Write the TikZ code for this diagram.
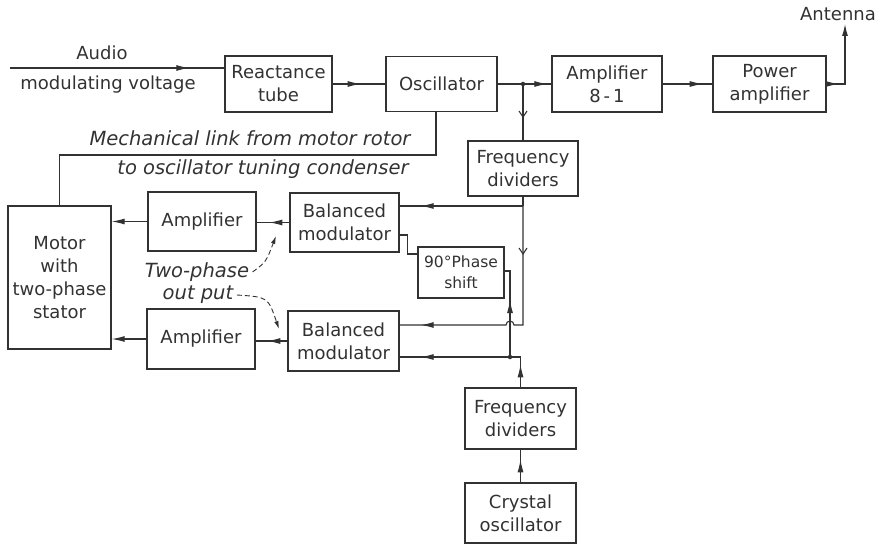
\documentclass[tikz,border=0pt]{standalone}
\usepackage{fontspec}
\setmainfont{DejaVu Sans}
\usepackage{tikz}
\usetikzlibrary{arrows.meta,decorations.markings}
\definecolor{inkGray}{RGB}{50,50,50}

\begin{document}
\begin{tikzpicture}[x=1pt,y=-1pt,
  every node/.style={font=\fontsize{18}{23}\selectfont,text=inkGray},
  block/.style={draw=inkGray,line width=1.4pt,align=center,inner sep=0pt},
  wire/.style={draw=inkGray,line width=1.1pt},
  note/.style={font=\fontsize{19.5}{23}\selectfont\itshape},
  midarrow/.style={postaction={decorate,decoration={markings,
     mark=at position #1 with {\arrow{Latex[length=13pt,width=6pt]}}}}},
  midvee/.style={postaction={decorate,decoration={markings,
     mark=at position #1 with {\arrow{Straight Barb[length=6pt,width=8pt]}}}}},
  dot/.style={circle,fill=inkGray,inner sep=0pt,minimum size=4.5pt}
]
\useasboundingbox (0,0) rectangle (888,545);
% Top row
\node[block,minimum width=107pt,minimum height=56pt] (react) at (278.5,84) {Reactance\\tube};
\node[block,minimum width=111pt,minimum height=55pt] (osc) at (441.5,84) {Oscillator};
\node[block,minimum width=110pt,minimum height=56pt] (amp81) at (607,84) {Amplifier\\8\,-\,1};
\node[block,minimum width=113pt,minimum height=56pt] (pamp) at (769.5,84) {Power\\amplifier};
\node[block,minimum width=110pt,minimum height=55pt] (fdtop) at (523,168.5) {Frequency\\dividers};
% Motor and modulators
\node[block,minimum width=103pt,minimum height=143pt] (motor) at (59.5,277.5) {Motor\\with\\two-phase\\stator};
\node[block,minimum width=108pt,minimum height=59pt] (ampU) at (202,221.5) {Amplifier};
\node[block,minimum width=108pt,minimum height=60pt] (ampL) at (201,339) {Amplifier};
\node[block,minimum width=109pt,minimum height=59pt] (bmU) at (344.5,222.5) {Balanced\\modulator};
\node[block,minimum width=111pt,minimum height=60pt] (bmL) at (343.5,341) {Balanced\\modulator};
\node[block,minimum width=86pt,minimum height=51pt,font=\fontsize{15.5}{21}\selectfont] (shift) at (461,272.5) {90°Phase\\shift};
% Crystal chain
\node[block,minimum width=111pt,minimum height=61pt] (fdbot) at (520.5,418.5) {Frequency\\dividers};
\node[block,minimum width=111pt,minimum height=60pt] (xtal) at (520.5,513) {Crystal\\oscillator};

% Audio input
\coordinate (audio) at (10,68);
\draw[wire,midarrow=-35pt] (audio) -- (audio -| react.west);
\node (audiolbl) at (102,53) {Audio};
\node (modlbl) at (108,85) {modulating voltage};

% Transmitter chain
\draw[wire,midarrow=28pt] (react.east) -- (osc.west);
\coordinate (split) at (fdtop.north |- osc.east);
\draw[wire,midarrow=-4pt] (osc.east) -- (amp81.west);
\node[dot] (splitdot) at (split) {};
\draw[wire,midvee=34pt] (split) -- (fdtop.north);
\draw[wire,midarrow=40pt] (amp81.east) -- (pamp.west);
\coordinate (anttop) at (845,24);
\draw[wire,midarrow=12pt,-{Latex[length=12pt,width=6pt]}] (pamp.east) -| (anttop);
\node[above=0pt,xshift=-7pt] (antlbl) at (anttop) {Antenna};

% Mechanical link
\coordinate (mech) at (436,155);
\draw[wire] (osc.south -| mech) -- (mech) -| (motor.north);
\node[note] (mechA) at (250,138) {Mechanical link from motor rotor};
\node[note] (mechB) at (263,169) {to oscillator tuning condenser};

% Amplifiers to motor
\draw[wire,-{Latex[length=13pt,width=6pt]}] (ampU.west) -- (ampU.west -| motor.east);
\draw[wire,-{Latex[length=13pt,width=6pt]}] (ampL.west) -- (ampL.west -| motor.east);
\draw[wire,midarrow=20pt] (bmU.west) -- (bmU.west -| ampU.east);
\draw[wire,midarrow=20pt] (bmL.west) -- (bmL.west -| ampL.east);

% Reference from upper dividers
\coordinate (tee) at (523,206);
\coordinate (hop) at (510,325);
\draw[wire] (fdtop.south) -- (tee);
\draw[wire,midarrow=-21pt] (tee) -- (tee -| bmU.east);
\draw[wire,midvee=49pt,midarrow=-21pt] (tee) |- ([xshift=4pt]hop)
  arc[start angle=0,end angle=180,radius=4pt] -- (hop -| bmL.east);

% Phase shift loop
\draw[wire] ([yshift=-12.5pt]bmU.east) -- ++(8,0) |- ([yshift=18.5pt]shift.west);
\coordinate (low) at (520.5,357);
\coordinate (join) at (510,357);
\coordinate (shin) at (510,271);
\draw[wire,midarrow=23pt] (fdbot.north) -- (low);
\draw[wire,midarrow=-21pt] (low) -- (low -| bmL.east);
\node[dot] (joindot) at (join) {};
\draw[wire,midarrow=57pt] (join) -- (shin) -- (shin -| shift.east);
\draw[wire,midarrow=23pt] (xtal.north) -- (fdbot.south);

% Two-phase output
\node[note] (tpA) at (197,272) {Two-phase};
\node[note] (tpB) at (198,295) {out put};
\draw[wire,line width=0.9pt,dash pattern=on 5pt off 3pt,-{Latex[length=8pt,width=4.5pt]}]
  (tpA.east) .. controls (266,262) .. (276,236);
\draw[wire,line width=0.9pt,dash pattern=on 5pt off 3pt,-{Latex[length=8pt,width=4.5pt]}]
  (tpB.east) .. controls (268,297) .. (279,329);
\end{tikzpicture}
\end{document}
